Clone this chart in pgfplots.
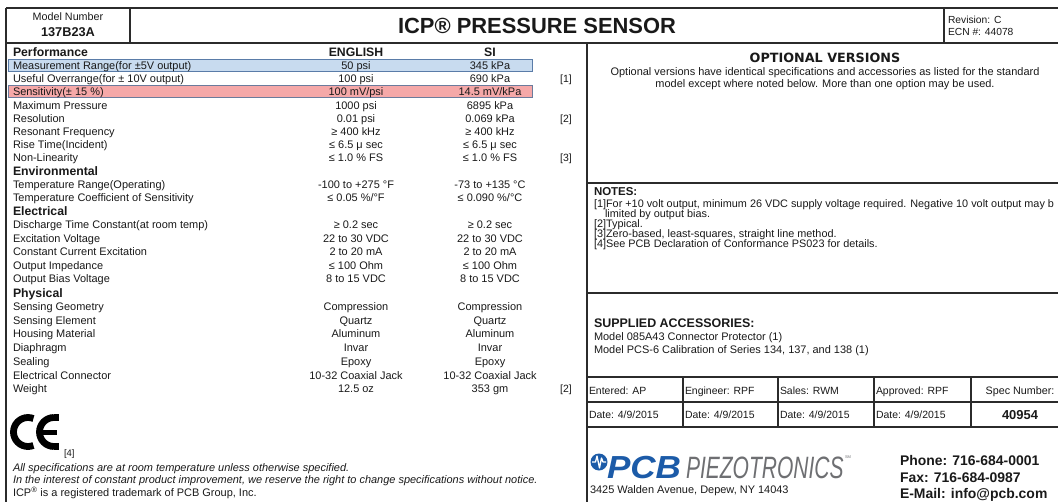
\documentclass[border=0pt]{standalone}
\usepackage{pgfplots}
\pgfplotsset{compat=1.18}
\usepackage{fontspec}
\setmainfont{Liberation Sans}
\newfontfamily\dejavu{DejaVu Sans}
\definecolor{lc}{HTML}{2B2B2B}
\definecolor{bfill}{HTML}{C8DBEF}
\definecolor{bedge}{HTML}{5A7CA8}
\definecolor{rfill}{HTML}{F5A8A8}
\definecolor{redge}{HTML}{6B7B9C}
\definecolor{pcbblue}{HTML}{1C5BA8}
\definecolor{pcbgray}{HTML}{6E6F72}
\newcommand\fs[1]{\fontsize{#1}{#1}\selectfont}
\tikzset{
  tx/.style={inner sep=0pt, outer sep=0pt, text=black!90},
  w/.style={tx, anchor=base west, font=\fs{#1}, yshift={-0.36*#1pt}},
  c/.style={tx, anchor=base, font=\fs{#1}, yshift={-0.36*#1pt}},
  wb/.style={w=#1, font=\fs{#1}\bfseries},
  cb/.style={c=#1, font=\fs{#1}\bfseries},
  bl/.style={lc, line width=1.8bp},
}
\newcommand\R[4]{\node[w=11] at (axis cs:13,#1) {#2};\node[c=11] at (axis cs:356,#1) {#3};\node[c=11] at (axis cs:490,#1) {#4};}
\begin{document}
\begin{tikzpicture}
\begin{axis}[
  scale only axis, width=1058bp, height=502bp,
  xmin=0, xmax=1058, ymin=0, ymax=502, y dir=reverse,
  hide axis, clip=false,
]
% highlight boxes
\fill[bfill, draw=bedge, line width=1bp] (axis cs:8,60) rectangle (axis cs:532,72);
\fill[rfill, draw=redge, line width=1bp] (axis cs:8,86) rectangle (axis cs:532,98);
% frame
\draw[bl] (axis cs:6,8) -- (axis cs:1062,8);
\draw[bl] (axis cs:6,43) -- (axis cs:1062,43);
\draw[bl] (axis cs:6,8) -- (axis cs:6,504);
\draw[bl] (axis cs:130,8) -- (axis cs:130,43);
\draw[bl] (axis cs:944,8) -- (axis cs:944,43);
\draw[bl] (axis cs:587,43) -- (axis cs:587,504);
\draw[bl] (axis cs:587,183) -- (axis cs:1062,183);
\draw[bl] (axis cs:587,293) -- (axis cs:1062,293);
\draw[bl] (axis cs:587,377) -- (axis cs:1062,377);
\draw[bl] (axis cs:587,402) -- (axis cs:1062,402);
\draw[bl] (axis cs:587,427) -- (axis cs:1062,427);
\draw[bl] (axis cs:683,377) -- (axis cs:683,427);
\draw[bl] (axis cs:778,377) -- (axis cs:778,427);
\draw[bl] (axis cs:874,377) -- (axis cs:874,427);
\draw[bl] (axis cs:971,377) -- (axis cs:971,427);
% header
\node[c=10.8] at (axis cs:68,17) {Model Number};
\node[cb=12.8] at (axis cs:68,32) {137B23A};
\node[cb=22] at (axis cs:537,26) {ICP® PRESSURE SENSOR};
\node[w=10.3] at (axis cs:948,20) {Revision: C};
\node[w=10.3] at (axis cs:948,32) {ECN \#: 44078};
% left table
\node[wb=12.3] at (axis cs:13,52) {Performance};
\node[cb=12.3] at (axis cs:356,52) {ENGLISH};
\node[cb=12.3] at (axis cs:490,52) {SI};
\R{65.5}{Measurement Range(for ±5V output)}{50 psi}{345 kPa}
\R{79}{Useful Overrange(for ± 10V output)}{100 psi}{690 kPa}
\R{92}{Sensitivity(± 15 \%)}{100 mV/psi}{14.5 mV/kPa}
\R{105.5}{Maximum Pressure}{1000 psi}{6895 kPa}
\R{118.5}{Resolution}{0.01 psi}{0.069 kPa}
\R{132}{Resonant Frequency}{≥ 400 kHz}{≥ 400 kHz}
\R{145}{Rise Time(Incident)}{≤ 6.5 μ sec}{≤ 6.5 μ sec}
\R{158}{Non-Linearity}{≤ 1.0 \% FS}{≤ 1.0 \% FS}
\node[wb=12.3] at (axis cs:13,171) {Environmental};
\R{184.5}{Temperature Range(Operating)}{-100 to +275 °F}{-73 to +135 °C}
\R{198}{Temperature Coefficient of Sensitivity}{≤ 0.05 \%/°F}{≤ 0.090 \%/°C}
\node[wb=12.3] at (axis cs:13,211.5) {Electrical};
\R{225}{Discharge Time Constant(at room temp)}{≥ 0.2 sec}{≥ 0.2 sec}
\R{238.5}{Excitation Voltage}{22 to 30 VDC}{22 to 30 VDC}
\R{252}{Constant Current Excitation}{2 to 20 mA}{2 to 20 mA}
\R{265.5}{Output Impedance}{≤ 100 Ohm}{≤ 100 Ohm}
\R{279}{Output Bias Voltage}{8 to 15 VDC}{8 to 15 VDC}
\node[wb=12.3] at (axis cs:13,293.5) {Physical};
\R{307}{Sensing Geometry}{Compression}{Compression}
\R{320.5}{Sensing Element}{Quartz}{Quartz}
\R{334}{Housing Material}{Aluminum}{Aluminum}
\R{348}{Diaphragm}{Invar}{Invar}
\R{361.5}{Sealing}{Epoxy}{Epoxy}
\R{375.5}{Electrical Connector}{10-32 Coaxial Jack}{10-32 Coaxial Jack}
\R{389}{Weight}{12.5 oz}{353 gm}
\node[c=10.5] at (axis cs:566,79) {[1]};
\node[c=10.5] at (axis cs:566,118.5) {[2]};
\node[c=10.5] at (axis cs:566,158) {[3]};
\node[c=10.5] at (axis cs:566,389) {[2]};
% CE mark
\draw[black, line width=6.8bp] (axis cs:28,432) ++(68:14.5bp) arc[start angle=68, end angle=292, radius=14.5bp];
\draw[black, line width=6.8bp] (axis cs:54,432) ++(90:14.5bp) arc[start angle=90, end angle=270, radius=14.5bp];
\draw[black, line width=6.8bp] (axis cs:53.5,417.5) -- (axis cs:59,417.5);
\draw[black, line width=6.8bp] (axis cs:53.5,446.5) -- (axis cs:59,446.5);
\draw[black, line width=5bp] (axis cs:42,432) -- (axis cs:57,432);
\node[w=9.5] at (axis cs:64,453) {[4]};
% footer
\node[w=11, font=\fs{11}\itshape] at (axis cs:13,468) {All specifications are at room temperature unless otherwise specified.};
\node[w=11, font=\fs{11}\itshape] at (axis cs:13,480) {In the interest of constant product improvement, we reserve the right to change specifications without notice.};
\node[w=11] at (axis cs:13,493) {ICP\textsuperscript{®} is a registered trademark of PCB Group, Inc.};
% right side
\node[c=12.8, font=\fs{12.8}\dejavu\bfseries] at (axis cs:825,58) {OPTIONAL VERSIONS};
\node[c=11] at (axis cs:825,72) {Optional versions have identical specifications and accessories as listed for the standard};
\node[c=11] at (axis cs:825,83.5) {model except where noted below. More than one option may be used.};
\node[wb=11.5] at (axis cs:594,191) {NOTES:};
\node[w=10.9] at (axis cs:594,203.5) {[1]For +10 volt output, minimum 26 VDC supply voltage required. Negative 10 volt output may b};
\node[w=10.9] at (axis cs:605,213.5) {limited by output bias.};
\node[w=10.9] at (axis cs:594,223.5) {[2]Typical.};
\node[w=10.9] at (axis cs:594,233.5) {[3]Zero-based, least-squares, straight line method.};
\node[w=10.9] at (axis cs:594,243.5) {[4]See PCB Declaration of Conformance PS023 for details.};
\node[wb=12.5] at (axis cs:594,323) {SUPPLIED ACCESSORIES:};
\node[w=11] at (axis cs:594,337) {Model 085A43 Connector Protector (1)};
\node[w=11] at (axis cs:594,350) {Model PCS-6 Calibration of Series 134, 137, and 138 (1)};
\node[w=10.5] at (axis cs:589,390.5) {Entered: AP};
\node[w=10.5] at (axis cs:685,390.5) {Engineer: RPF};
\node[w=10.5] at (axis cs:780,390.5) {Sales: RWM};
\node[w=10.5] at (axis cs:876,390.5) {Approved: RPF};
\node[c=10.8] at (axis cs:1020,390.5) {Spec Number:};
\node[w=10.5] at (axis cs:589,414.5) {Date: 4/9/2015};
\node[w=10.5] at (axis cs:685,414.5) {Date: 4/9/2015};
\node[w=10.5] at (axis cs:780,414.5) {Date: 4/9/2015};
\node[w=10.5] at (axis cs:876,414.5) {Date: 4/9/2015};
\node[cb=13] at (axis cs:1020,414.5) {40954};
% logo
\fill[pcbblue] (axis cs:599,462) circle[radius=8.5bp];
\draw[white, line width=1.3bp, line join=round] (axis cs:592,462) -- (axis cs:595.5,462) -- (axis cs:597,456) -- (axis cs:599.5,468) -- (axis cs:601.5,458) -- (axis cs:603,462) -- (axis cs:606,462);
\node[tx, anchor=base west, text=pcbblue, font=\fs{32}\bfseries\itshape, xscale=1.1] at (axis cs:607,478) {PCB};
\node[tx, anchor=base west, text=pcbgray, font=\fs{31}\itshape, xscale=0.68] at (axis cs:686,478) {PIEZOTRONICS};
\node[tx, anchor=base west, text=pcbgray, font=\fs{4}] at (axis cs:845,458) {SM};
\node[w=11] at (axis cs:590,490) {3425 Walden Avenue, Depew, NY 14043};
\node[wb=14] at (axis cs:900,460) {Phone: 716-684-0001};
\node[wb=14] at (axis cs:900,477) {Fax: 716-684-0987};
\node[wb=14] at (axis cs:900,493) {E-Mail: info@pcb.com};
\end{axis}
\pgfresetboundingbox
\path (current axis.south west) rectangle (current axis.north east);
\end{tikzpicture}
\end{document}
